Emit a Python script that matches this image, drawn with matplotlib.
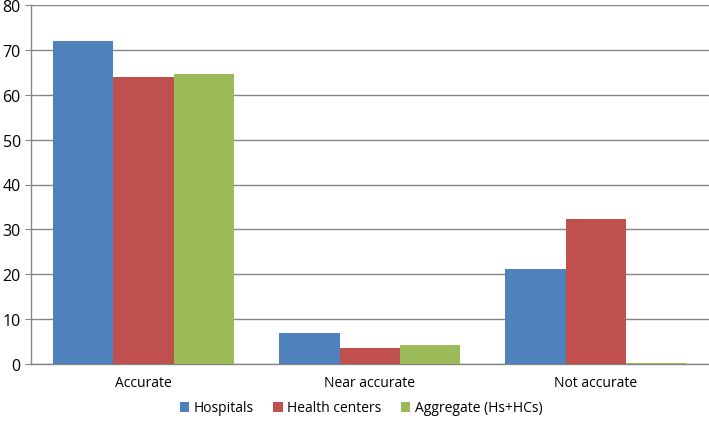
import numpy as np
import matplotlib
matplotlib.use("Agg")
import matplotlib.pyplot as plt

# data
categories = ["Accurate", "Near accurate", "Not accurate"]
hospitals = [72.0, 6.9, 21.1]
health_centers = [63.9, 3.6, 32.4]
aggregate = [64.6, 4.2, 0.3]
series_names = ["Hospitals", "Health centers", "Aggregate (Hs+HCs)"]
colors = ["#4F81BD", "#C0504D", "#9BBB59"]

plt.rcParams['font.family'] = ['Open Sans', 'DejaVu Sans']

fig = plt.figure(figsize=(7.09, 4.27), dpi=100)
ax = fig.add_axes([30.5 / 709, 1 - 365 / 427, 1 - 30.5 / 709, 359 / 427])

x = np.arange(len(categories))
w = 0.267
for i, vals in enumerate([hospitals, health_centers, aggregate]):
    ax.bar(x + (i - 1) * w, vals, w, color=colors[i], label=series_names[i], zorder=3)

ax.set_xlim(-0.5, 2.5)
ax.set_ylim(0, 80)
ax.set_yticks(range(0, 81, 10))
ax.set_xticks(x)
ax.set_xticklabels(categories, fontsize=10)
ax.tick_params(axis='y', labelsize=11.5, length=4, color='#868686', pad=3)
ax.tick_params(axis='x', length=0, pad=8)
ax.yaxis.grid(True, color='#868686', linewidth=1, zorder=0)

for s in ['top', 'right']:
    ax.spines[s].set_visible(False)
for s in ['left', 'bottom']:
    ax.spines[s].set_color('#868686')
    ax.spines[s].set_linewidth(1)

ax.legend(loc='center', bbox_to_anchor=(0.487, -44 / 359), ncol=3, frameon=False,
          fontsize=10, handlelength=0.7, handleheight=0.7, handletextpad=0.3,
          columnspacing=1.4, borderpad=0)

fig.savefig("out.png", dpi=100)
